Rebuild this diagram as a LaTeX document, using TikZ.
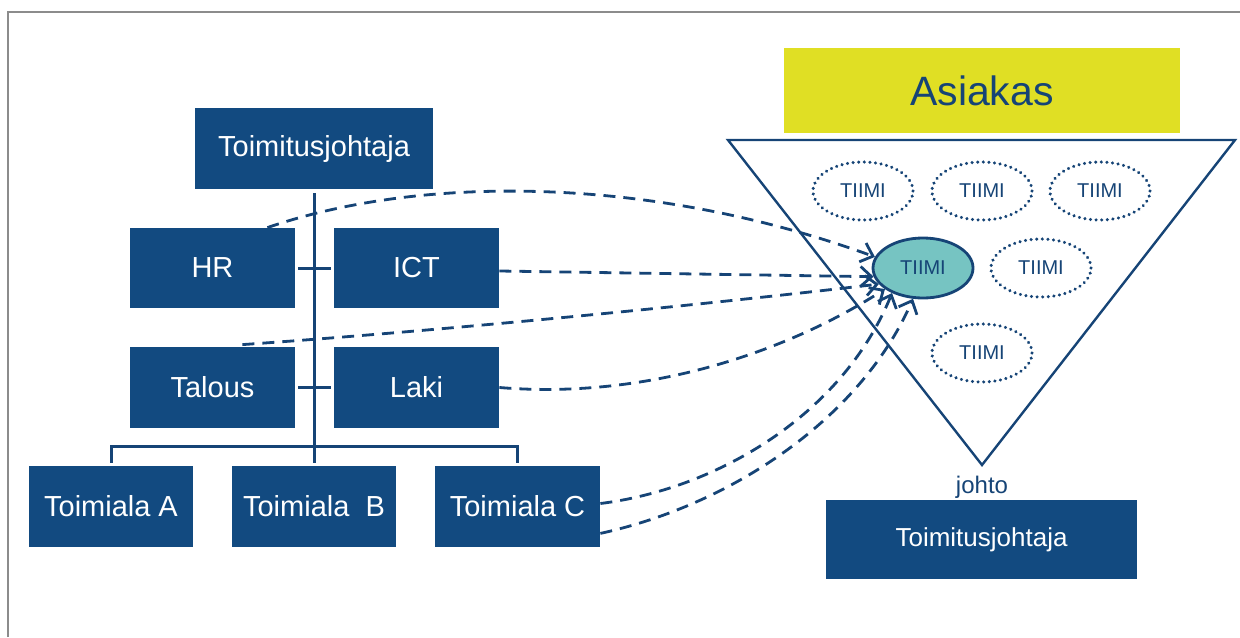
\documentclass[tikz,border=0pt]{standalone}
\usepackage{fontspec}
\setmainfont{Liberation Sans}
\usetikzlibrary{shapes.geometric,arrows.meta,calc}
\definecolor{navy}{RGB}{18,74,128}
\definecolor{linec}{RGB}{22,68,118}
\definecolor{teal}{RGB}{118,196,194}
\definecolor{lime}{RGB}{224,223,36}
\definecolor{framec}{RGB}{140,140,140}
\tikzset{
  x=0.5pt, y=-0.5pt,
  orgbox/.style={fill=navy, text=white, inner sep=0pt, font=\fontsize{14.5}{16}\selectfont},
  tree/.style={draw=linec, line width=1.5pt},
  team/.style={ellipse, draw=linec, line width=1.7pt, dash pattern=on 0.01pt off 2.8pt, line cap=round,
    minimum width=50pt, minimum height=29pt, inner sep=0pt, text=linec, font=\fontsize{10}{12}\selectfont},
  link/.style={draw=linec, line width=1.4pt, dash pattern=on 6pt off 4pt,
    -{Straight Barb[length=5.5pt,width=10pt,line width=1.4pt]}}
}
\begin{document}
\begin{tikzpicture}
\useasboundingbox (0,0) rectangle (1240,637);
% page frame
\draw[framec, line width=1pt] (8,637) -- (8,12) -- (1240,12);

% organisation chart
\node[orgbox, minimum width=119pt, minimum height=40.5pt] (tj) at (314,148.5) {Toimitusjohtaja};
\node[orgbox, minimum width=82.5pt, minimum height=40pt] (hr) at (212.5,268) {HR};
\node[orgbox, minimum width=82.5pt, minimum height=40pt] (ict) at (416.5,268) {ICT};
\node[orgbox, minimum width=82.5pt, minimum height=40.5pt] (talous) at (212.5,387.5) {Talous};
\node[orgbox, minimum width=82.5pt, minimum height=40.5pt] (laki) at (416.5,387.5) {Laki};
\node[orgbox, minimum width=82pt, minimum height=40.5pt] (ta) at (111,506.5) {Toimiala A};
\node[orgbox, minimum width=82pt, minimum height=40.5pt] (tb) at (314,506.5) {Toimiala\ \ B};
\node[orgbox, minimum width=82.5pt, minimum height=40.5pt] (tc) at (517.5,506.5) {Toimiala C};

\draw[tree, shorten <=2pt, shorten >=1.5pt] (tj) -- (tb);
\draw[tree, shorten <=1.5pt, shorten >=1.5pt] (hr) -- (ict);
\draw[tree, shorten <=1.5pt, shorten >=1.5pt] (talous) -- (laki);
\draw[tree] ([yshift=1.5pt]ta.north) -- ++(0,-16) -| ([yshift=1.5pt]tc.north);

% customer-facing team model
\node[fill=lime, minimum width=198pt, minimum height=42.5pt, inner sep=0pt,
  text=linec, font=\fontsize{20.5}{24}\selectfont] (asiakas) at (982,90.5) {Asiakas};
\coordinate (tl) at (728,140);
\coordinate (tr) at (1235,140);
\coordinate (tip) at (982,465);
\draw[linec, line width=1.2pt, line join=miter] (tl) -- (tr) -- (tip) -- cycle;

\node[team] (t1) at (863,191) {TIIMI};
\node[team] (t2) at (982,191) {TIIMI};
\node[team] (t3) at (1100,191) {TIIMI};
\node[team] (t4) at (1041,268) {TIIMI};
\node[team] (t5) at (982,353) {TIIMI};
\node[ellipse, fill=teal, draw=linec, line width=1.4pt, minimum width=50pt, minimum height=30pt,
  inner sep=0pt, text=linec, font=\fontsize{10}{12}\selectfont] (tm) at (923,268) {TIIMI};

\node[text=linec, font=\fontsize{12}{14}\selectfont] (johto) at (982,487) {johto};
\node[orgbox, font=\fontsize{13}{15}\selectfont, minimum width=155.5pt, minimum height=39.5pt] (tj2) at (981.5,539.5) {Toimitusjohtaja};

% links from the line organisation to the team
\draw[link] ($(hr.north east)+(-28,0)$) .. controls (420,175) and (650,175) .. (tm.167);
\draw[link] ($(ict.east)+(0,3)$) -- (tm.190);
\draw[link] ($(talous.north east)+(-53,-2)$) .. controls (450,330) and (700,305) .. (tm.200);
\draw[link] (laki.east) .. controls (650,400) and (790,350) .. (tm.209);
\draw[link] ($(tc.east)+(0,-3)$) .. controls (710,490) and (840,420) .. (tm.219);
\draw[link] ($(tc.south east)+(0,-14)$) .. controls (730,505) and (860,420) .. (tm.252);
\end{tikzpicture}
\end{document}
